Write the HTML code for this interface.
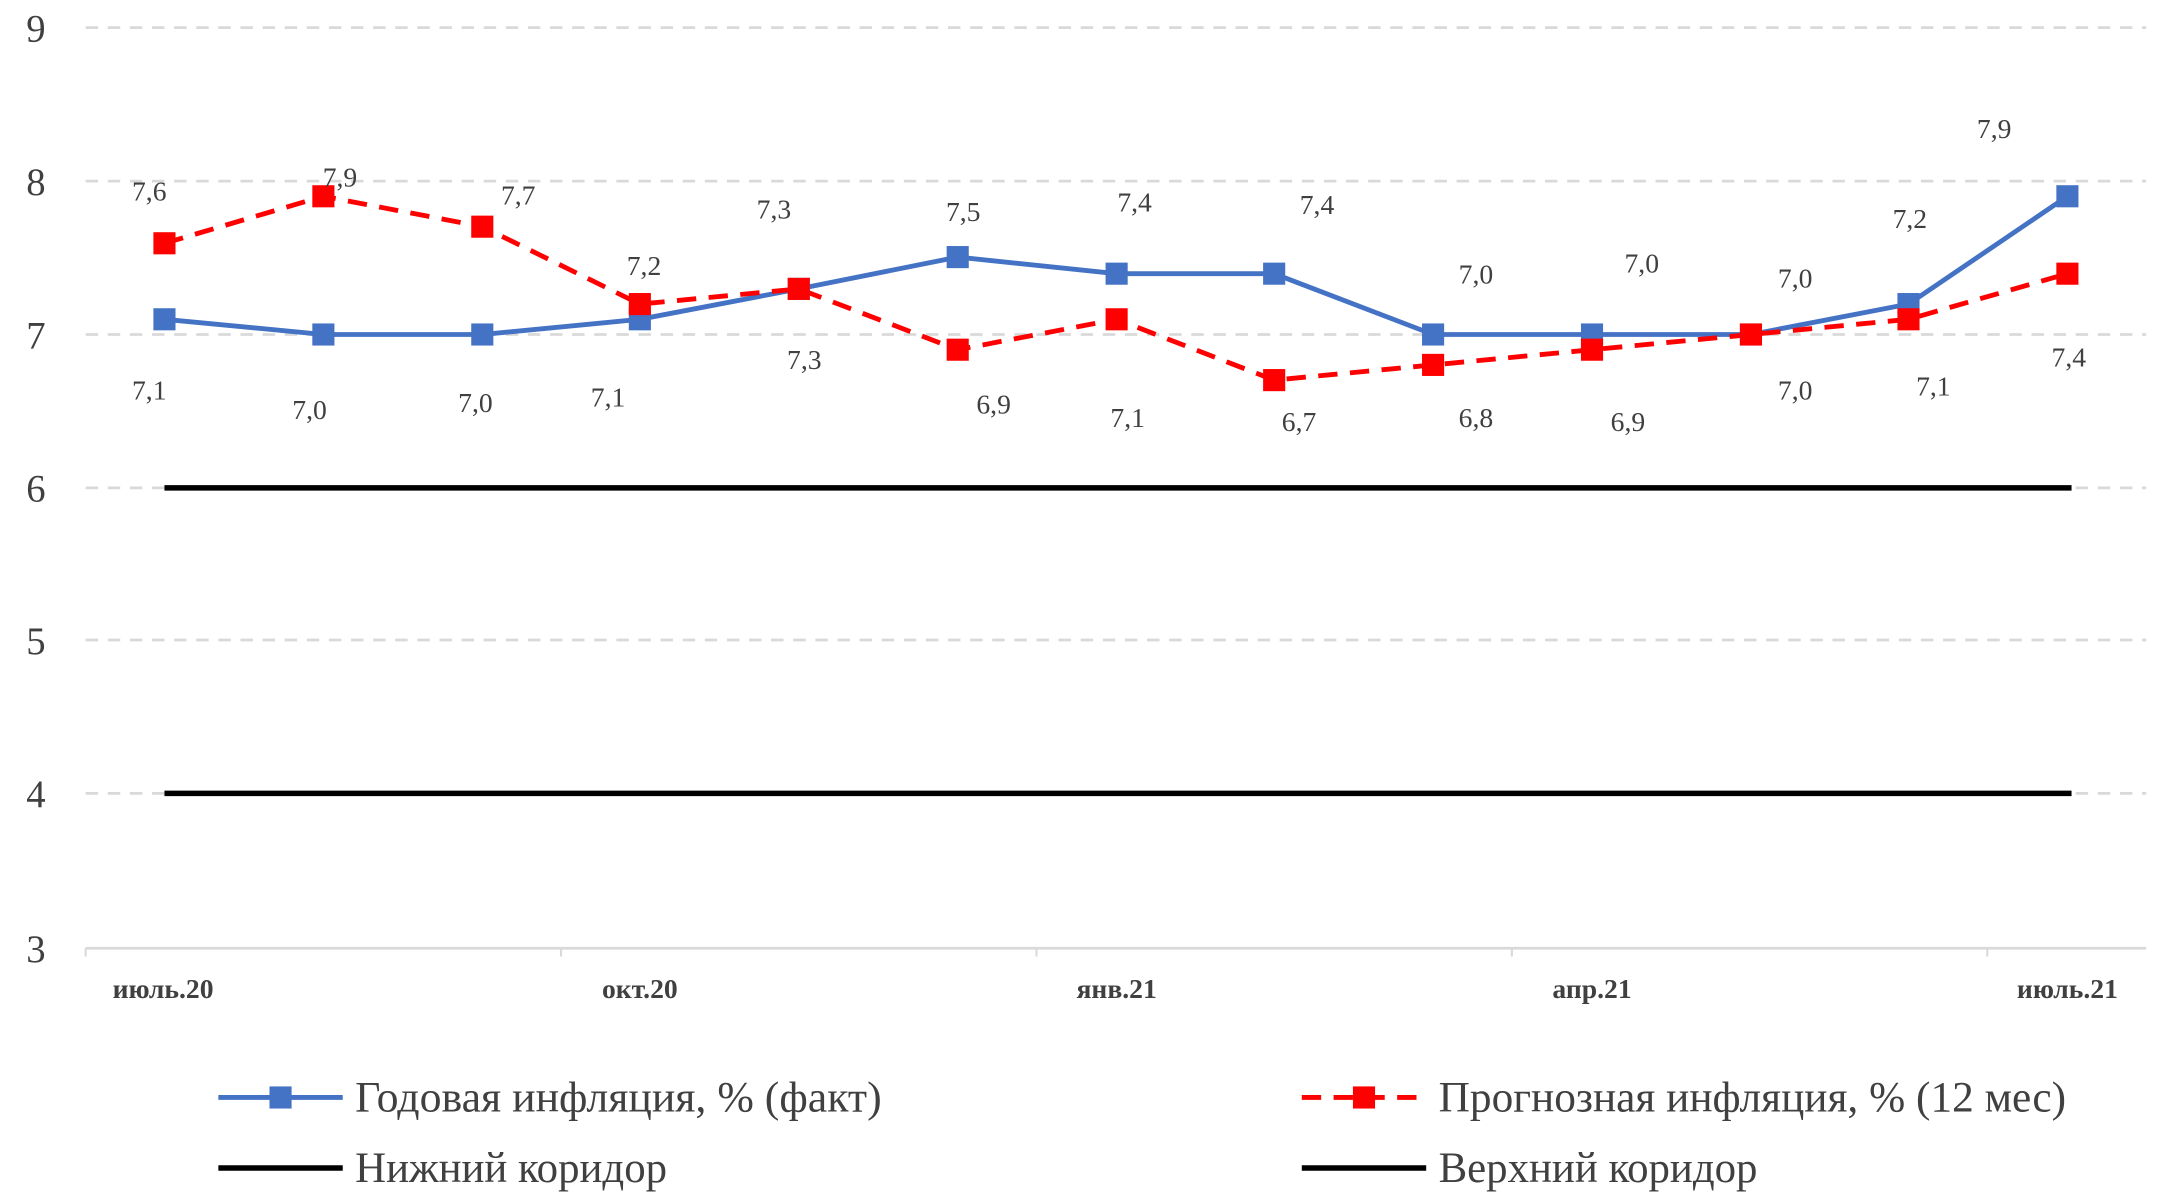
<!DOCTYPE html>
<html><head><meta charset="utf-8"><style>
html,body{margin:0;padding:0;background:#fff;}
svg{display:block;}
text{font-family:"Liberation Serif",serif;fill:#404040;}
</style></head><body>
<svg width="2160" height="1197" viewBox="0 0 1563 866" preserveAspectRatio="none" xmlns="http://www.w3.org/2000/svg">
<g stroke="#d9d9d9" stroke-width="2" stroke-dasharray="9,7">
<line x1="62" y1="20" x2="1553" y2="20"/>
<line x1="62" y1="131" x2="1553" y2="131"/>
<line x1="62" y1="242" x2="1553" y2="242"/>
<line x1="62" y1="353" x2="1553" y2="353"/>
<line x1="62" y1="463" x2="1553" y2="463"/>
<line x1="62" y1="574" x2="1553" y2="574"/>
</g>
<line x1="62" y1="686" x2="1553" y2="686" stroke="#d9d9d9" stroke-width="2"/>
<g stroke="#d9d9d9" stroke-width="1.5">
<line x1="62" y1="686" x2="62" y2="692"/><line x1="406" y1="686" x2="406" y2="692"/>
<line x1="750" y1="686" x2="750" y2="692"/><line x1="1094" y1="686" x2="1094" y2="692"/>
<line x1="1438" y1="686" x2="1438" y2="692"/>
</g>
<g font-size="28" text-anchor="middle">
<text x="26" y="30">9</text><text x="26" y="141">8</text><text x="26" y="252">7</text>
<text x="26" y="363">6</text><text x="26" y="473">5</text><text x="26" y="584">4</text><text x="26" y="696">3</text>
</g>
<g font-size="20" text-anchor="middle" font-weight="bold" fill="#404040">
<text x="118" y="722">июль.20</text><text x="463" y="722">окт.20</text>
<text x="808" y="722">янв.21</text><text x="1152" y="722">апр.21</text><text x="1496" y="722">июль.21</text>
</g>
<line x1="119" y1="353" x2="1499" y2="353" stroke="#000" stroke-width="4"/>
<line x1="119" y1="574" x2="1499" y2="574" stroke="#000" stroke-width="4"/>
<polyline fill="none" stroke="#4472C4" stroke-width="3.5" points="119,231 234,242 349,242 463,231 578,209 693,186 808,198 922,198 1037,242 1152,242 1267,242 1381,220 1496,142"/>
<polyline fill="none" stroke="#FF0000" stroke-width="3.5" stroke-dasharray="14,9" points="119,176 234,142 349,164 463,220 578,209 693,253 808,231 922,275 1037,264 1152,253 1267,242 1381,231 1496,198"/>
<g fill="#4472C4">
<rect x="111" y="223" width="16" height="16"/><rect x="226" y="234" width="16" height="16"/><rect x="341" y="234" width="16" height="16"/><rect x="455" y="223" width="16" height="16"/><rect x="570" y="201" width="16" height="16"/><rect x="685" y="178" width="16" height="16"/><rect x="800" y="190" width="16" height="16"/><rect x="914" y="190" width="16" height="16"/><rect x="1029" y="234" width="16" height="16"/><rect x="1144" y="234" width="16" height="16"/><rect x="1259" y="234" width="16" height="16"/><rect x="1373" y="212" width="16" height="16"/><rect x="1488" y="134" width="16" height="16"/>
</g>
<g fill="#FF0000">
<rect x="111" y="168" width="16" height="16"/><rect x="226" y="134" width="16" height="16"/><rect x="341" y="156" width="16" height="16"/><rect x="455" y="212" width="16" height="16"/><rect x="570" y="201" width="16" height="16"/><rect x="685" y="245" width="16" height="16"/><rect x="800" y="223" width="16" height="16"/><rect x="914" y="267" width="16" height="16"/><rect x="1029" y="256" width="16" height="16"/><rect x="1144" y="245" width="16" height="16"/><rect x="1259" y="234" width="16" height="16"/><rect x="1373" y="223" width="16" height="16"/><rect x="1488" y="190" width="16" height="16"/>
</g>
<g font-size="20" text-anchor="middle">
<text x="108" y="289">7,1</text><text x="224" y="303">7,0</text><text x="344" y="298">7,0</text><text x="440" y="294">7,1</text>
<text x="560" y="158">7,3</text><text x="697" y="160">7,5</text><text x="821" y="153">7,4</text><text x="953" y="155">7,4</text>
<text x="1068" y="205">7,0</text><text x="1188" y="197">7,0</text><text x="1299" y="208">7,0</text><text x="1382" y="165">7,2</text><text x="1443" y="100">7,9</text>
<text x="108" y="145">7,6</text><text x="246" y="135">7,9</text><text x="375" y="148">7,7</text><text x="466" y="199">7,2</text>
<text x="582" y="267">7,3</text><text x="719" y="299">6,9</text><text x="816" y="309">7,1</text><text x="940" y="312">6,7</text>
<text x="1068" y="309">6,8</text><text x="1178" y="312">6,9</text><text x="1299" y="289">7,0</text><text x="1399" y="286">7,1</text><text x="1497" y="265">7,4</text>
</g>
<line x1="158" y1="794" x2="248" y2="794" stroke="#4472C4" stroke-width="3.5"/>
<rect x="195" y="786" width="16" height="16" fill="#4472C4"/>
<line x1="942" y1="794" x2="1032" y2="794" stroke="#FF0000" stroke-width="3.5" stroke-dasharray="14,9"/>
<rect x="979" y="786" width="16" height="16" fill="#FF0000"/>
<line x1="158" y1="845" x2="248" y2="845" stroke="#000" stroke-width="4"/>
<line x1="942" y1="845" x2="1032" y2="845" stroke="#000" stroke-width="4"/>
<g font-size="31">
<text x="257" y="804" textLength="381" lengthAdjust="spacingAndGlyphs">Годовая инфляция, % (факт)</text>
<text x="1041" y="804" textLength="454" lengthAdjust="spacingAndGlyphs">Прогнозная инфляция, % (12 мес)</text>
<text x="257" y="855">Нижний коридор</text>
<text x="1041" y="855">Верхний коридор</text>
</g>
</svg>
</body></html>
